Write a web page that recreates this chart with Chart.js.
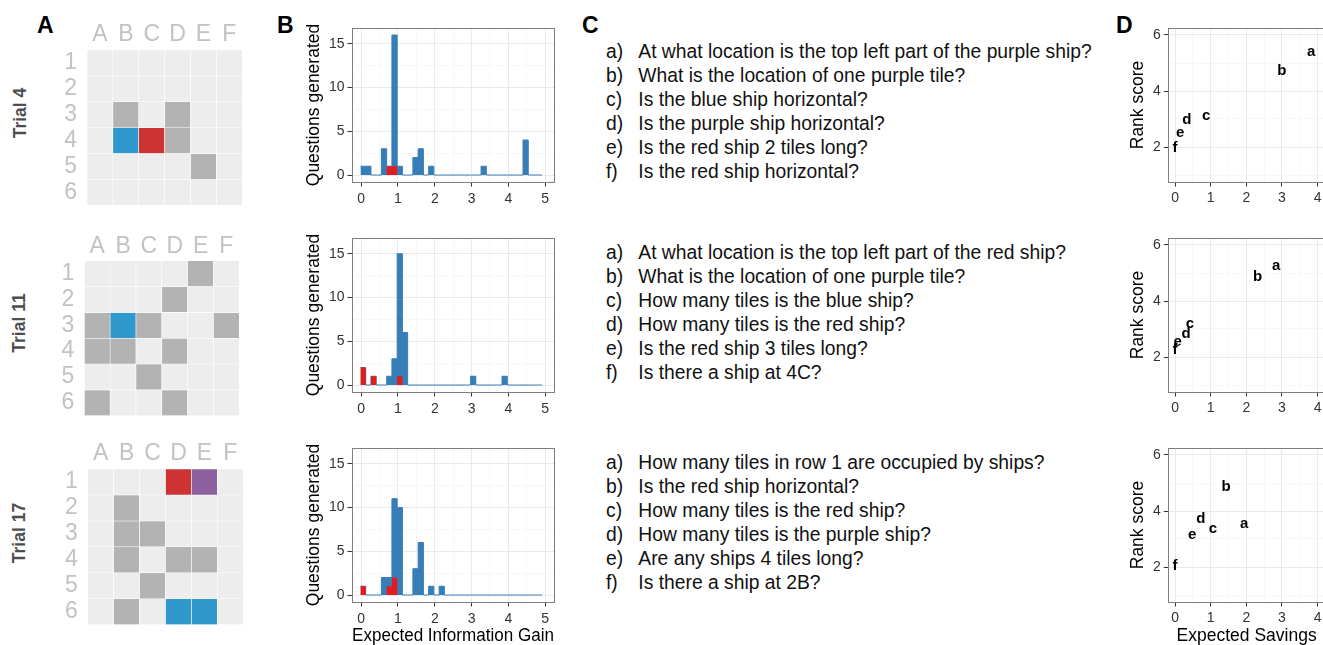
<!DOCTYPE html>
<html lang="en">
<head>
<meta charset="UTF-8">
<title>Battleship questions: boards, EIG histograms and rank scores</title>
<script src="https://cdn.jsdelivr.net/npm/chart.js"></script>
<style>
  body {
    margin: 0;
    width: 1323px;
    height: 645px;
    overflow: hidden;
    position: relative;
    background: #fff;
    font-family: "Liberation Sans", Arial, sans-serif;
  }
  .panel-letter { position: absolute; font-weight: bold; font-size: 23px; line-height: 23px; color: #000; }
  .trial {
    position: absolute; font-weight: bold; font-size: 17.5px; color: #4d4d4d; white-space: nowrap;
    transform: translate(-50%, -50%) rotate(-90deg);
  }
  .qs { position: absolute; left: 606px; font-size: 19.3px; line-height: 23.9px; color: #111; white-space: nowrap; }
  .qs span { display: inline-block; width: 32.3px; }
</style>
</head>
<body>
<div class="panel-letter" style="left:37px;top:14px">A</div>
<div class="panel-letter" style="left:277px;top:14px">B</div>
<div class="panel-letter" style="left:582px;top:14px">C</div>
<div class="panel-letter" style="left:1116px;top:14px">D</div>

<script>
const FONT = '"Liberation Sans", Arial, sans-serif';
Chart.defaults.font.family = FONT;

// ---- data ----
const trialNames = ['Trial 4', 'Trial 11', 'Trial 17'];
const columns = ['A', 'B', 'C', 'D', 'E', 'F'];
const rows = ['1', '2', '3', '4', '5', '6'];
// . hidden tile, x revealed water, b blue ship, r red ship, p purple ship
const board4 = ['......', '......', '.x.x..', '.brx..', '....x.', '......'];
const board11 = ['....x.', '...x..', 'xbx..x', 'xx.x..', '..x...', 'x..x..'];
const board17 = ['...rp.', '.x....', '.xx...', '.x.xx.', '..x...', '.x.bb.'];

// histogram bins of expected information gain
const binStart = -0.02;
const binWidth = 0.1425;
const eigEnd = 4.91;
const blue4 = [1,1,0,0,3,1,16,1,0,0, 2,3,0,1,0,0,0,0,0,0, 0,0,0,1,0,0,0,0,0,0, 0,4,0,0,0];
const red4  = [0,0,0,0,0,1,1,0,0,0, 0,0,0,0,0,0,0,0,0,0, 0,0,0,0,0,0,0,0,0,0, 0,0,0,0,0];
const blue11 = [2,0,1,0,0,1,3,15,6,0, 0,0,0,0,0,0,0,0,0,0, 0,1,0,0,0,0,0,1,0,0, 0,0,0,0,0];
const red11  = [2,0,1,0,0,0,0,1,0,0, 0,0,0,0,0,0,0,0,0,0, 0,0,0,0,0,0,0,0,0,0, 0,0,0,0,0];
const blue17 = [1,0,0,0,2,2,11,10,0,0, 3,6,0,1,0,1,0,0,0,0, 0,0,0,0,0,0,0,0,0,0, 0,0,0,0,0];
const red17  = [1,0,0,0,0,1,2,0,0,0, 0,0,0,0,0,0,0,0,0,0, 0,0,0,0,0,0,0,0,0,0, 0,0,0,0,0];
const eigBreaks = [0, 1, 2, 3, 4, 5];
const countBreaks = [0, 5, 10, 15];

// questions and their scores
const qLetters = ['a', 'b', 'c', 'd', 'e', 'f'];
const questions4 = [
  'At what location is the top left part of the purple ship?',
  'What is the location of one purple tile?',
  'Is the blue ship horizontal?',
  'Is the purple ship horizontal?',
  'Is the red ship 2 tiles long?',
  'Is the red ship horizontal?'
];
const questions11 = [
  'At what location is the top left part of the red ship?',
  'What is the location of one purple tile?',
  'How many tiles is the blue ship?',
  'How many tiles is the red ship?',
  'Is the red ship 3 tiles long?',
  'Is there a ship at 4C?'
];
const questions17 = [
  'How many tiles in row 1 are occupied by ships?',
  'Is the red ship horizontal?',
  'How many tiles is the red ship?',
  'How many tiles is the purple ship?',
  'Are any ships 4 tiles long?',
  'Is there a ship at 2B?'
];
const savings4 = [3.82, 3.0, 0.87, 0.33, 0.14, 0.0];
const rank4 = [5.4, 4.71, 3.11, 2.96, 2.49, 1.98];
const savings11 = [2.84, 2.32, 0.42, 0.31, 0.07, 0.0];
const rank11 = [5.25, 4.87, 3.17, 2.81, 2.54, 2.24];
const savings17 = [1.94, 1.43, 1.06, 0.72, 0.48, 0.0];
const rank17 = [3.54, 4.86, 3.36, 3.71, 3.15, 2.05];
const savingsBreaks = [0, 1, 2, 3, 4];
const rankBreaks = [2, 4, 6];

// ---- helpers ----
const tileColors = { '.': '#ecedec', 'x': '#b3b3b3', 'b': '#3198cd', 'r': '#cd3333', 'p': '#8c609f' };
const BLUE = '#377eb8';
const RED = '#e41a1c';

function makeCanvas(left, top, width, height) {
  const c = document.createElement('canvas');
  c.width = width;
  c.height = height;
  c.style.cssText = `position:absolute;left:${left}px;top:${top}px;width:${width}px;height:${height}px`;
  document.body.appendChild(c);
  return c;
}

// pin an axis to a fixed size and stop it from padding the chart area
function pin(prop, size) {
  return s => {
    s[prop] = size;
    s.paddingTop = s.paddingBottom = s.paddingLeft = s.paddingRight = 0;
  };
}

// ggplot-like box around the panel
const panelBorder = {
  id: 'panelBorder',
  afterDraw(chart) {
    const { ctx, chartArea: a } = chart;
    ctx.save();
    ctx.strokeStyle = '#7f7f7f';
    ctx.lineWidth = 1;
    ctx.strokeRect(Math.round(a.left) + 0.5, Math.round(a.top) + 0.5,
      Math.round(a.right - a.left), Math.round(a.bottom - a.top));
    ctx.restore();
  }
};

// draws the question letter at each scatter point
const letterMarks = {
  id: 'letterMarks',
  afterDatasetsDraw(chart) {
    const ctx = chart.ctx;
    ctx.save();
    ctx.font = 'bold 15px ' + FONT;
    ctx.fillStyle = '#000';
    ctx.textAlign = 'center';
    ctx.textBaseline = 'middle';
    chart.getDatasetMeta(0).data.forEach((pt, i) => ctx.fillText(qLetters[i], pt.x, pt.y));
    ctx.restore();
  }
};

// major ticks plus the minor half-steps between them
function withMinor(breaks, lo, hi) {
  const step = breaks[1] - breaks[0];
  const out = [];
  for (let v = breaks[0] - step / 2; v <= hi; v += step / 2) {
    if (v >= lo) out.push(Math.round(v * 1000) / 1000);
  }
  return out;
}

function ggAxis(breaks, min, max, extra) {
  const isMajor = v => breaks.includes(v);
  return Object.assign({
    type: 'linear', min, max,
    afterBuildTicks: s => { s.ticks = withMinor(breaks, min, max).map(v => ({ value: v })); },
    ticks: {
      autoSkip: false, maxRotation: 0, padding: 3,
      font: { size: 14 }, color: '#333',
      callback: v => isMajor(v) ? String(v) : ''
    },
    grid: {
      color: c => c.tick && isMajor(c.tick.value) ? '#e9e9e9' : '#f4f4f4',
      lineWidth: c => c.tick && isMajor(c.tick.value) ? 1 : 0.7,
      tickColor: c => c.tick && isMajor(c.tick.value) ? '#333' : 'rgba(0,0,0,0)',
      tickLength: 4.5
    },
    border: { display: false }
  }, extra);
}

// ---- panel A: boards ----
function drawBoard(board, p) {
  const canvas = makeCanvas(p.left, p.top, p.w, p.h);
  new Chart(canvas, {
    type: 'bar',
    data: {
      labels: columns,
      datasets: rows.map((r, ri) => ({
        data: columns.map(() => 1),
        backgroundColor: columns.map((c, ci) => tileColors[board[ri][ci]]),
        borderColor: '#ffffff',
        borderWidth: 0.6,
        borderSkipped: false,
        barPercentage: 1,
        categoryPercentage: 1
      }))
    },
    options: {
      responsive: false,
      animation: false,
      layout: { padding: { right: p.padR, bottom: p.padB } },
      plugins: { legend: { display: false }, tooltip: { enabled: false } },
      scales: {
        x: {
          position: 'top', stacked: true,
          grid: { display: false, drawTicks: false }, border: { display: false },
          ticks: { autoSkip: false, font: { size: 23 }, color: '#c2c2c2', padding: p.xPad },
          afterFit: pin('height', p.axisH)
        },
        y: {
          stacked: true, min: 0, max: 6, reverse: true,
          grid: { display: false, drawTicks: false }, border: { display: false },
          afterBuildTicks: s => { s.ticks = rows.map((r, i) => ({ value: i + 0.5 })); },
          ticks: { autoSkip: false, font: { size: 23 }, color: '#c2c2c2', padding: 10, callback: (v, i) => rows[i] },
          afterFit: pin('width', p.axisW)
        }
      }
    }
  });
}

// ---- panel B: histograms ----
function steps(counts) {
  const pts = counts.map((n, k) => ({ x: binStart + k * binWidth, y: n }));
  pts.push({ x: eigEnd, y: 0 });
  return pts;
}

function drawHist(blue, red, top, withTitle) {
  const axisH = withTitle ? 48 : 28;
  const canvas = makeCanvas(300, top, 256, 8 + 154 + axisH);
  const xAxis = ggAxis(eigBreaks, -0.25, 5.24, {
    title: { display: withTitle, text: 'Expected Information Gain', color: '#000', font: { size: 17.5 }, padding: { top: 0, bottom: 3 } },
    afterFit: pin('height', axisH)
  });
  xAxis.ticks.padding = 4.5;
  new Chart(canvas, {
    type: 'line',
    data: {
      datasets: [
        { data: steps(red), stepped: true, borderWidth: 0, backgroundColor: RED, fill: 'origin', pointRadius: 0 },
        { data: steps(blue), stepped: true, borderWidth: 1, borderColor: BLUE, backgroundColor: BLUE, fill: 'origin', pointRadius: 0 }
      ]
    },
    options: {
      responsive: false,
      animation: false,
      layout: { padding: { top: 8, right: 2 } },
      plugins: { legend: { display: false }, tooltip: { enabled: false }, filler: { drawTime: 'beforeDatasetDraw' } },
      scales: {
        x: xAxis,
        y: ggAxis(countBreaks, -0.8, 16.8, {
          title: { display: true, text: 'Questions generated', color: '#000', font: { size: 17.5 }, padding: { top: 4, bottom: 0 } },
          afterFit: pin('width', 52)
        })
      }
    },
    plugins: [panelBorder]
  });
}

// ---- panel D: rank score vs expected savings ----
function drawScores(savings, rank, top, withTitle) {
  const axisH = withTitle ? 48 : 28;
  const canvas = makeCanvas(1124, top, 203, 8 + 154 + axisH);
  new Chart(canvas, {
    type: 'scatter',
    data: { datasets: [{ data: savings.map((s, i) => ({ x: s, y: rank[i] })), pointRadius: 0 }] },
    options: {
      responsive: false,
      animation: false,
      layout: { padding: { top: 8, right: 2 } },
      plugins: { legend: { display: false }, tooltip: { enabled: false } },
      scales: {
        x: ggAxis(savingsBreaks, -0.19, 4.21, {
          title: { display: withTitle, text: 'Expected Savings', color: '#000', font: { size: 17.5 }, padding: { top: 0, bottom: 3 } },
          afterFit: pin('height', axisH)
        }),
        y: ggAxis(rankBreaks, 0.75, 6.25, {
          title: { display: true, text: 'Rank score', color: '#000', font: { size: 17.5 }, padding: { top: 4, bottom: 0 } },
          afterFit: pin('width', 44.3)
        })
      }
    },
    plugins: [panelBorder, letterMarks]
  });
}

// ---- panel C: question lists ----
function writeQuestions(list, top) {
  const div = document.createElement('div');
  div.className = 'qs';
  div.style.top = top + 'px';
  div.innerHTML = list.map((q, i) => `<div><span>${qLetters[i]})</span>${q}</div>`).join('');
  document.body.appendChild(div);
}

function trialLabel(text, x, y) {
  const d = document.createElement('div');
  d.className = 'trial';
  d.style.left = x + 'px';
  d.style.top = y + 'px';
  d.textContent = text;
  document.body.appendChild(d);
}

trialLabel(trialNames[0], 20, 113);
trialLabel(trialNames[1], 18.5, 323);
trialLabel(trialNames[2], 18.5, 533);

drawBoard(board4, { left: 55, top: 14, w: 190, h: 193, axisW: 32, axisH: 36, padR: 2.7, padB: 1.7, xPad: 2 });
drawBoard(board11, { left: 52, top: 224, w: 190, h: 194, axisW: 32.3, axisH: 36.7, padR: 2.7, padB: 2.3, xPad: 0.5 });
drawBoard(board17, { left: 56, top: 433, w: 190, h: 194, axisW: 31.7, axisH: 36, padR: 2.7, padB: 2.3, xPad: 1.8 });

drawHist(blue4, red4, 20, false);
drawHist(blue11, red11, 230, false);
drawHist(blue17, red17, 440, true);

writeQuestions(questions4, 40);
writeQuestions(questions11, 241);
writeQuestions(questions17, 451);

drawScores(savings4, rank4, 20, false);
drawScores(savings11, rank11, 230, false);
drawScores(savings17, rank17, 440, true);
</script>
</body>
</html>
